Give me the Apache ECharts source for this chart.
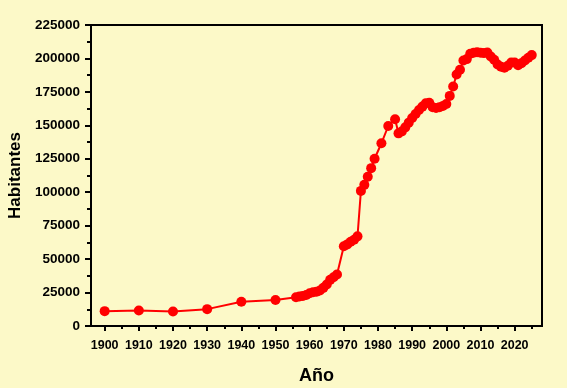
<!DOCTYPE html>
<html><head><meta charset="utf-8">
<script src="https://cdn.jsdelivr.net/npm/echarts@6/dist/echarts.min.js"></script>
<style>html,body{margin:0;padding:0;background:#FCF9C8;}#c{width:567px;height:388px;}</style>
</head><body><div id="c"></div>
<script>
const years = [1900,1910,1920,1930,1940,1950,
 1956,1957,1958,1959,1960,1961,1962,1963,1964,1965,1966,1967,1968,
 1970,1971,1972,1973,1974,
 1975,1976,1977,1978,1979,1981,1983,1985,1986,1987,1988,1989,1990,1991,1992,1993,1994,1995,
 1996,1997,1998,1999,2000,2001,2002,2003,2004,2005,2006,2007,2008,2009,2010,2011,2012,2013,
 2014,2015,2016,2017,2018,2019,2020,2021,2022,2023,2024,2025];
const habitantes = [11100,11600,10900,12600,18100,19400,
 21500,22000,22500,23200,24500,25200,25600,26500,28500,31000,34500,36500,38500,
 59600,61000,63000,64500,67000,
 101000,105500,111500,118000,125000,136600,149500,154500,144000,145500,148500,152000,155500,158500,161500,164000,166500,166800,
 163500,163000,163500,164500,166000,172000,179000,188000,191500,198500,199500,203500,204300,204600,204200,204000,204500,201500,
 199000,195500,193800,193000,194500,197000,197000,195000,196500,198500,200500,202500];
const xTickYears = [1900,1910,1920,1930,1940,1950,1960,1970,1980,1990,2000,2010,2020];
const xMinorYears = [1905,1915,1925,1935,1945,1955,1965,1975,1985,1995,2005,2015,2025];

const font = 'Liberation Sans, Arial, sans-serif';
const chart = echarts.init(document.getElementById('c'));
chart.setOption({
  backgroundColor: '#FCF9C8',
  animation: false,
  grid: {left: 91, right: 25, top: 25, bottom: 62, containLabel: false, outerBoundsMode: 'none',
         show: true, borderColor: '#000', borderWidth: 2, backgroundColor: 'transparent'},
  xAxis: [{
    type: 'value', min: 1896, max: 2028,
    name: 'Año', nameLocation: 'middle', nameGap: 41,
    nameTextStyle: {fontFamily: font, fontWeight: 'bold', fontSize: 18, color: '#000'},
    axisLine: {show: true, lineStyle: {color: '#000', width: 2}},
    axisTick: {show: true, length: 5, lineStyle: {color: '#000', width: 2}, customValues: xTickYears},
    axisLabel: {customValues: xTickYears, formatter: v => String(v), fontFamily: font, fontWeight: 'bold', fontSize: 12.5, color: '#000', margin: 13},
    splitLine: {show: false}
  },{
    type: 'value', min: 1896, max: 2028, position: 'bottom',
    axisLine: {show: false},
    axisTick: {show: true, length: 3, lineStyle: {color: '#000', width: 2}, customValues: xMinorYears},
    axisLabel: {show: false},
    splitLine: {show: false}
  }],
  yAxis: {
    type: 'value', min: 0, max: 225000, interval: 25000,
    name: 'Habitantes', nameLocation: 'middle', nameGap: 67,
    nameTextStyle: {fontFamily: font, fontWeight: 'bold', fontSize: 17, color: '#000'},
    axisLine: {show: true, lineStyle: {color: '#000', width: 2}},
    axisTick: {show: true, length: 6, lineStyle: {color: '#000', width: 2}},
    minorTick: {show: true, splitNumber: 2, length: 4, lineStyle: {color: '#000', width: 2}},
    axisLabel: {formatter: v => String(v), fontFamily: font, fontWeight: 'bold', fontSize: 13.5, color: '#000', margin: 11},
    splitLine: {show: false}
  },
  series: [{
    type: 'line',
    data: years.map((y, i) => [y, habitantes[i]]),
    symbol: 'circle', symbolSize: 10,
    itemStyle: {color: '#FF0000'},
    lineStyle: {color: '#FF0000', width: 2}
  }]
});
</script></body></html>
